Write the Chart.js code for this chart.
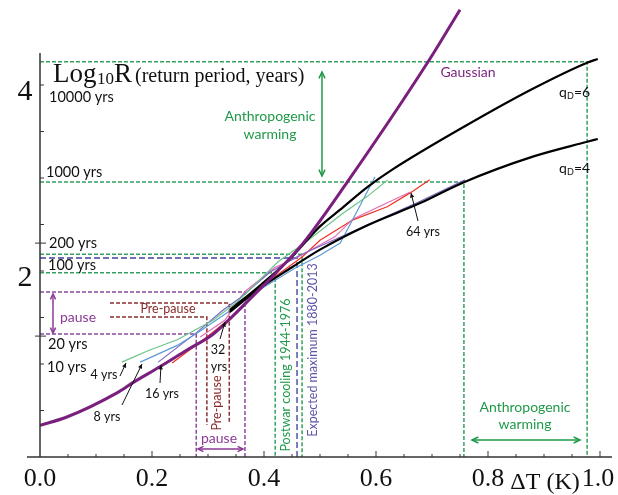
<!DOCTYPE html>
<html>
<head>
<meta charset="utf-8">
<script src="https://cdn.jsdelivr.net/npm/chart.js@4"></script>
<style>
  html, body { margin: 0; padding: 0; background: #fff; }
  canvas { display: block; }
</style>
</head>
<body>
<canvas id="chart" width="618" height="495"></canvas>
<script>
// curves: [deltaT (K), log10 R]
const gaussian = [[0, 0.34], [0.048, 0.43], [0.1375, 0.69], [0.166, 0.80], [0.214, 0.97], [0.2625, 1.15],
    [0.309, 1.32], [0.345, 1.52], [0.38, 1.73], [0.423, 1.99], [0.47, 2.30], [0.548, 2.95], [0.693, 4.25], [0.75, 4.81]];
const qD6 = [[0.339, 1.58], [0.396, 1.86], [0.446, 2.13], [0.5, 2.48], [0.536, 2.66], [0.584, 2.90], [0.629, 3.09],
    [0.7625, 3.57], [0.88, 3.96], [0.977, 4.24], [0.996, 4.28]];
const qD4 = [[0.339, 1.56], [0.389, 1.80], [0.45, 2.04], [0.5, 2.23], [0.584, 2.49], [0.679, 2.73], [0.755, 2.95],
    [0.88, 3.23], [0.977, 3.39], [0.996, 3.42]];
const yrs4 = [[0.146, 1.02], [0.196, 1.15], [0.245, 1.26], [0.309, 1.47], [0.352, 1.67], [0.375, 1.80], [0.425, 2.10],
    [0.479, 2.33], [0.541, 2.62], [0.584, 2.80], [0.621, 2.98]];
const yrs8 = [[0.179, 1.02], [0.245, 1.20], [0.28, 1.33], [0.334, 1.55], [0.393, 1.80], [0.455, 2.03], [0.5, 2.17],
    [0.536, 2.30], [0.5625, 2.60], [0.598, 3.01]];
const yrs16 = [[0.211, 1.02], [0.28, 1.34], [0.327, 1.58], [0.357, 1.71], [0.411, 1.99], [0.464, 2.17], [0.571, 2.46],
    [0.679, 2.75], [0.759, 2.98]];
const yrs32 = [[0.286, 1.29], [0.33, 1.47], [0.366, 1.78], [0.42, 2.04], [0.461, 2.15], [0.527, 2.37], [0.559, 2.56],
    [0.661, 2.85]];
const yrs64 = [[0.236, 1.01], [0.298, 1.29], [0.352, 1.55], [0.384, 1.76], [0.42, 1.94], [0.468, 2.15], [0.5, 2.33],
    [0.559, 2.55], [0.62, 2.69], [0.661, 2.84], [0.696, 2.98]];

// dashed guide lines: level (log10 R), start T, corner T, bottom level
const guideLevels = [4.25, 2.957, 2.18, 2.14, 1.98, 1.774, 1.323, 1.656, 1.505];
const guideStarts = [0, 0, 0, 0, 0, 0, 0, 0.125, 0.125];
const guideEnds = [0.977, 0.757, 0.468, 0.459, 0.42, 0.366, 0.279, 0.338, 0.298];
const guideBottoms = [0, 0, 0, 0, 0, 0, 0, 0.366, 0.344];
const guideKinds = ['green', 'green', 'green', 'blue', 'green', 'purple', 'purple', 'maroon', 'maroon'];

const xTickLabels = [0, 0.2, 0.4, 0.6, 0.8, 1.0];
const yTickLabels = [2, 4];

const GREEN = '#1e9a48', PURPLE = '#7b1f7e', PAUSE = '#8c3a96', MAROON = '#8b2a2a', BLUEP = '#5d56a8';
const guideColors = { green: '#35a060', blue: '#6e70b8', purple: '#8c4a9e', maroon: '#8b3030' };

const toXY = arr => arr.map(p => ({ x: p[0], y: p[1] }));

const thin = (arr, color) => ({
    data: toXY(arr), borderColor: color, borderWidth: 1.2, order: 5,
    tension: 0, cubicInterpolationMode: 'default',
});

const datasets = [
    { data: toXY(gaussian), borderColor: PURPLE, borderWidth: 3, order: 1 },
    { data: toXY(qD6), borderColor: '#000', borderWidth: 2.2, order: 2 },
    { data: toXY(qD4), borderColor: '#000', borderWidth: 2.2, order: 2 },
    thin(yrs4, '#6cc48a'),
    thin(yrs8, '#5b9bd5'),
    thin(yrs16, '#7e62c4'),
    thin(yrs32, '#e070b8'),
    thin(yrs64, '#ee3124'),
];

guideLevels.forEach((lv, i) => {
    const kind = guideKinds[i];
    datasets.push({
        data: toXY([[guideStarts[i], lv], [guideEnds[i], lv], [guideEnds[i], guideBottoms[i]]]),
        borderColor: guideColors[kind],
        borderWidth: kind === 'blue' ? 1.8 : 1.5,
        borderDash: kind === 'blue' ? [6, 3] : [4, 2],
        tension: 0,
        cubicInterpolationMode: 'default',
        order: 10,
    });
});

function line(ctx, x1, y1, x2, y2) {
    ctx.beginPath(); ctx.moveTo(x1, y1); ctx.lineTo(x2, y2); ctx.stroke();
}

function head(ctx, x, y, ang, size, filled) {
    const a1 = ang + Math.PI - 0.45, a2 = ang + Math.PI + 0.45;
    ctx.beginPath();
    ctx.moveTo(x + size * Math.cos(a1), y + size * Math.sin(a1));
    ctx.lineTo(x, y);
    ctx.lineTo(x + size * Math.cos(a2), y + size * Math.sin(a2));
    if (filled) { ctx.closePath(); ctx.fill(); } else ctx.stroke();
}

function arrow(ctx, x1, y1, x2, y2, both, size, filled) {
    line(ctx, x1, y1, x2, y2);
    const ang = Math.atan2(y2 - y1, x2 - x1);
    head(ctx, x2, y2, ang, size, filled);
    if (both) head(ctx, x1, y1, ang + Math.PI, size, filled);
}

function text(ctx, s, x, y, color, font, align) {
    ctx.fillStyle = color; ctx.font = font;
    ctx.textAlign = align || 'center'; ctx.textBaseline = 'middle';
    ctx.fillText(s, x, y);
}

function vtext(ctx, s, x, y, color, font) {
    ctx.save(); ctx.translate(x, y); ctx.rotate(-Math.PI / 2);
    text(ctx, s, 0, 0, color, font);
    ctx.restore();
}

const SANS = '"Lato", sans-serif', SERIF = '"Liberation Serif", serif';

const decor = {
    id: 'decor',
    afterDatasetsDraw(chart) {
        const ctx = chart.ctx;
        const X = v => chart.scales.x.getPixelForValue(v);
        const Y = v => chart.scales.y.getPixelForValue(v);
        ctx.save();

        // axes
        ctx.strokeStyle = '#333'; ctx.lineWidth = 1.5;
        line(ctx, X(0), 53, X(0), Y(0));
        line(ctx, 27, Y(0), 612, Y(0));
        ctx.lineWidth = 1;
        for (let i = 1; i <= 20; i++) {
            const v = i * 0.05;
            const big = i % 4 === 0;
            line(ctx, X(v), Y(0), X(v), Y(0) - (big ? 6 : 3));
        }
        for (let v = 0.5; v <= 4; v += 0.5) line(ctx, X(0), Y(v), X(0) + 4, Y(v));
        [2.3, 1.3].forEach(v => line(ctx, X(0) - 5, Y(v), X(0) + 6, Y(v)));

        xTickLabels.forEach(v => text(ctx, v.toFixed(1), X(v) - (v === 1 ? 2 : 0), 479, '#111', '26px ' + SERIF));
        text(ctx, 'ΔT (K)', 545, 483, '#111', '24px ' + SERIF);
        yTickLabels.forEach(v => text(ctx, String(v), 25, Y(v) + 7, '#111', '30px ' + SERIF));

        // y title
        ctx.fillStyle = '#111'; ctx.textAlign = 'left'; ctx.textBaseline = 'alphabetic';
        ctx.font = '27px ' + SERIF; ctx.fillText('Log', 53, 82);
        ctx.font = '17px ' + SERIF; ctx.fillText('10', 97, 84);
        ctx.font = '27px ' + SERIF; ctx.fillText('R', 114, 82);
        ctx.font = '20px ' + SERIF; ctx.fillText('(return period, years)', 135, 82);

        // return period labels
        const yf = '14.5px ' + SANS;
        text(ctx, '10000 yrs', 49, 97, '#111', yf, 'left');
        text(ctx, '1000 yrs', 46, 172, '#111', yf, 'left');
        text(ctx, '200 yrs', 49, 243, '#111', yf, 'left');
        text(ctx, '100 yrs', 48, 265, '#111', yf, 'left');
        text(ctx, '20 yrs', 48, 344, '#111', yf, 'left');
        text(ctx, '10 yrs', 47, 367, '#111', yf, 'left');

        // anthropogenic warming
        const af = '14px ' + SANS;
        text(ctx, 'Anthropogenic', 270, 116, GREEN, af);
        text(ctx, 'warming', 270, 134, GREEN, af);
        text(ctx, 'Anthropogenic', 525, 407, GREEN, af);
        text(ctx, 'warming', 525, 424, GREEN, af);
        ctx.strokeStyle = GREEN; ctx.fillStyle = GREEN; ctx.lineWidth = 1.5;
        arrow(ctx, 322, 72, 322, 176, true, 7, false);
        arrow(ctx, 472, 440, 580, 440, true, 7, false);

        text(ctx, 'Gaussian', 468, 72, PURPLE, af);

        // qD labels
        [[6, 92], [4, 168]].forEach(([q, y]) => {
            ctx.fillStyle = '#111'; ctx.textAlign = 'left'; ctx.textBaseline = 'middle';
            ctx.font = '14px ' + SANS; ctx.fillText('q', 559, y);
            ctx.font = '9px ' + SANS; ctx.fillText('D', 567, y + 4);
            ctx.font = '14px ' + SANS; ctx.fillText('=' + q, 574, y);
        });

        // pause
        text(ctx, 'pause', 78, 317, PAUSE, af);
        text(ctx, 'pause', 219, 438, PAUSE, af);
        ctx.strokeStyle = PAUSE; ctx.lineWidth = 1.5;
        arrow(ctx, 53, 294, 53, 333, true, 6, false);
        arrow(ctx, 198, 449, 243, 449, true, 6, false);

        text(ctx, 'Pre-pause', 168, 309, MAROON, '12.5px ' + SANS);
        vtext(ctx, 'Pre-pause', 217, 403, MAROON, '12.5px ' + SANS);
        vtext(ctx, 'Postwar cooling 1944-1976', 286, 375, GREEN, '12.5px ' + SANS);
        vtext(ctx, 'Expected maximum 1880-2013', 313, 350, BLUEP, '12.5px ' + SANS);

        // scale labels with arrows
        const sf = '12.5px ' + SANS;
        text(ctx, '4 yrs', 104, 375, '#111', sf);
        text(ctx, '8 yrs', 107, 417, '#111', sf);
        text(ctx, '16 yrs', 162, 394, '#111', sf);
        text(ctx, '32', 218, 350, '#111', sf);
        text(ctx, 'yrs', 219, 367, '#111', sf);
        text(ctx, '64 yrs', 423, 232, '#111', sf);
        ctx.strokeStyle = '#111'; ctx.fillStyle = '#111'; ctx.lineWidth = 1;
        arrow(ctx, 120, 376, 126, 363, false, 5, true);
        arrow(ctx, 122, 405, 142, 364, false, 5, true);
        arrow(ctx, 160, 383, 161, 365, false, 5, true);
        arrow(ctx, 220, 339, 225, 322, false, 5, true);
        arrow(ctx, 418, 221, 411, 193, false, 5, true);

        ctx.restore();
    }
};

new Chart(document.getElementById('chart'), {
    type: 'line',
    data: { datasets },
    options: {
        responsive: false,
        animation: false,
        layout: { padding: { left: 0, right: 0, top: 0, bottom: 38 } },
        elements: {
            point: { radius: 0 },
            line: { cubicInterpolationMode: 'monotone', fill: false },
        },
        scales: {
            x: { type: 'linear', min: -40 / 560, max: 578 / 560, display: false },
            y: { type: 'linear', min: 0, max: 457 / 93, display: false },
        },
        plugins: { legend: { display: false }, tooltip: { enabled: false } },
    },
    plugins: [decor],
});
</script>
</body>
</html>
